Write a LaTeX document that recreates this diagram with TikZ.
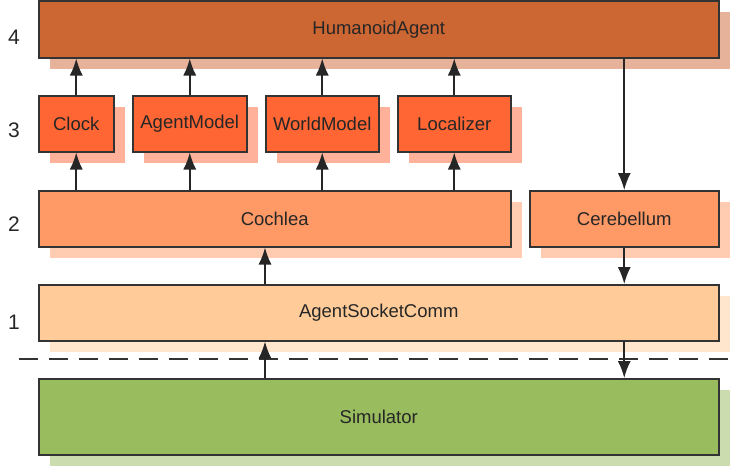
\documentclass[tikz,border=0pt]{standalone}
\usepackage{fontspec}
\setmainfont{Liberation Sans}
\usetikzlibrary{arrows.meta, shadows}
\definecolor{agentcol}{HTML}{CC6633}
\definecolor{modulecol}{HTML}{FF6633}
\definecolor{sensecol}{HTML}{FF9966}
\definecolor{commcol}{HTML}{FFCC99}
\definecolor{simcol}{HTML}{98BC5E}
\definecolor{edgecol}{HTML}{333333}
\tikzset{
  layerbox/.style={draw=edgecol, line width=1.5pt, text=black!85, anchor=north west,
    inner sep=0pt, font=\fontsize{18.5}{21}\selectfont},
  shade/.style={drop shadow={shadow xshift=11pt, shadow yshift=-11pt, fill=#1!50, opacity=1}},
  levellabel/.style={font=\fontsize{21}{24}\selectfont, text=black!85},
  flow/.style={-{Latex[length=17pt,width=13pt]}, line width=1.6pt, draw=black!85, fill=black!85}
}
\begin{document}
\begin{tikzpicture}[x=1pt, y=-1pt]
        \useasboundingbox (0,0) rectangle (738,466);

        % level 4
        \node[layerbox, shade=agentcol, fill=agentcol, minimum width=680pt, minimum height=57pt]
          (agent) at (38,0) {HumanoidAgent};

        % level 3
        \node[layerbox, shade=modulecol, fill=modulecol, minimum width=75pt, minimum height=56pt]
          (clock) at (38,95) {Clock};
        \node[layerbox, shade=modulecol, fill=modulecol, minimum width=114pt, minimum height=56pt]
          (amodel) at (132,95) {AgentModel};
        \node[layerbox, shade=modulecol, fill=modulecol, minimum width=113pt, minimum height=56pt]
          (wmodel) at (265,95) {WorldModel};
        \node[layerbox, shade=modulecol, fill=modulecol, minimum width=113pt, minimum height=56pt]
          (localizer) at (397,95) {Localizer};

        % level 2
        \node[layerbox, shade=sensecol, fill=sensecol, minimum width=472pt, minimum height=56pt]
          (cochlea) at (38,190) {Cochlea};
        \node[layerbox, shade=sensecol, fill=sensecol, minimum width=189pt, minimum height=56pt]
          (cerebellum) at (529,190) {Cerebellum};

        % level 1
        \node[layerbox, shade=commcol, fill=commcol, minimum width=680pt, minimum height=56pt]
          (comm) at (38,284) {AgentSocketComm};

        % the boundary and the simulator
        \draw[dashed, dash pattern=on 19pt off 11pt, line width=1.5pt, draw=edgecol]
          (19,359) -- (738,359);
        \node[layerbox, shade=simcol, fill=simcol, minimum width=680pt, minimum height=76pt]
          (sim) at (38,378) {Simulator};

        % level numbers
        \node[levellabel] (l4) at (14,37) {4};
        \node[levellabel] (l3) at (14,130) {3};
        \node[levellabel] (l2) at (14,224) {2};
        \node[levellabel] (l1) at (14,322) {1};

        % the arrows
        \foreach \m in {clock, amodel, wmodel, localizer} {
          \draw[flow] (\m.north) -- (\m.north |- agent.south);
          \draw[flow] (\m.south |- cochlea.north) -- (\m.south);
        }
        \draw[flow] (comm.north -| 265,0) -- (cochlea.south -| 265,0);
        \draw[flow] (sim.north -| 265,0) -- (comm.south -| 265,0);
        \draw[flow] (agent.south -| cerebellum.north) -- (cerebellum.north);
        \draw[flow] (cerebellum.south) -- (cerebellum.south |- comm.north);
        \draw[flow] (comm.south -| cerebellum.south) -- (cerebellum.south |- sim.north);
\end{tikzpicture}
\end{document}
